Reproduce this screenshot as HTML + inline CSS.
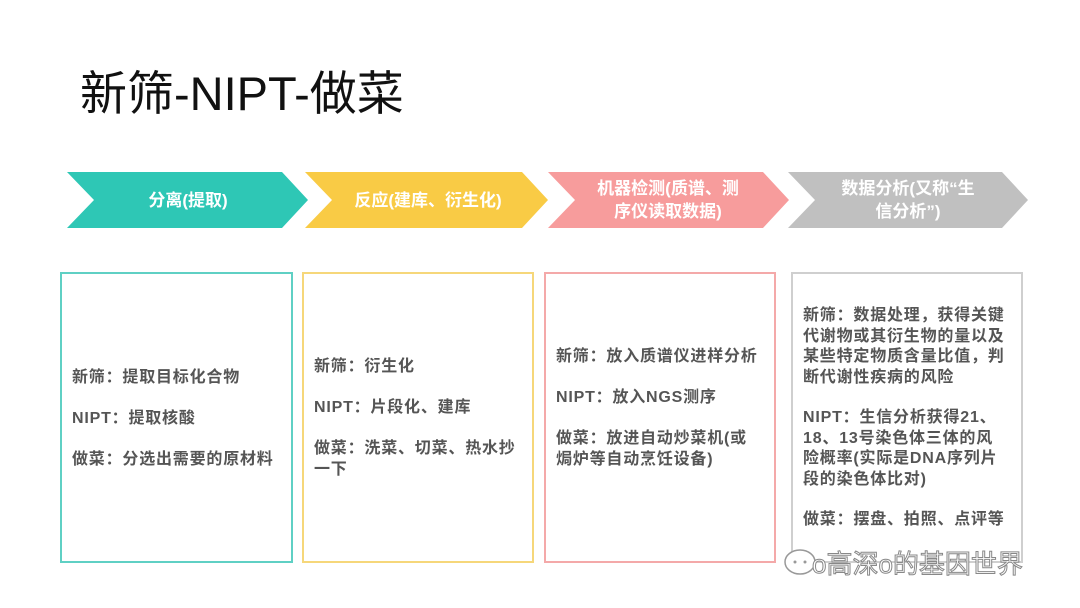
<!DOCTYPE html>
<html><head><meta charset="utf-8"><style>
body{margin:0;width:1080px;height:608px;background:#fff;position:relative;overflow:hidden;font-family:"Liberation Sans","Noto Sans CJK SC",sans-serif}
.t{position:absolute;white-space:nowrap}
.h{left:80px;top:55px;font-size:47px;color:#111}
.a{color:#fff;font-weight:bold;font-size:17px;text-align:center;line-height:23px}
.b{position:absolute;top:272px;height:291px;border:2px solid;box-sizing:border-box}
.x{position:absolute;color:#555;font-weight:bold;font-size:16px;letter-spacing:0.8px;line-height:20.5px;white-space:nowrap}
</style></head><body>
<div class="t h">新筛-NIPT-做菜</div>
<svg width="1080" height="608" style="position:absolute;left:0;top:0">
<polygon points="67,172 282,172 308,200 282,228 67,228 94,200" fill="#2ec7b5"/>
<polygon points="305,172 522,172 548,200 522,228 305,228 332,200" fill="#f9cb45"/>
<polygon points="548,172 763,172 789,200 763,228 548,228 575,200" fill="#f79c9c"/>
<polygon points="788,172 1002,172 1028,200 1002,228 788,228 815,200" fill="#c0c0c0"/>
</svg>
<div class="t a" style="left:94px;width:188px;top:189px">分离(提取)</div>
<div class="t a" style="left:330px;width:196px;top:189px">反应(建库、衍生化)</div>
<div class="t a" style="left:572px;width:192px;top:177px">机器检测(质谱、测<br>序仪读取数据)</div>
<div class="t a" style="left:812px;width:192px;top:177px">数据分析(又称“生<br>信分析”)</div>
<div class="b" style="left:60px;width:233px;border-color:#5fd0c4"></div>
<div class="b" style="left:302px;width:232px;border-color:#f6d77a"></div>
<div class="b" style="left:544px;width:232px;border-color:#f4a9a9"></div>
<div class="b" style="left:791px;width:232px;border-color:#cfcfcf"></div>
<div class="x" style="left:72px;top:368px">新筛：提取目标化合物</div>
<div class="x" style="left:72px;top:409px">NIPT：提取核酸</div>
<div class="x" style="left:72px;top:450px">做菜：分选出需要的原材料</div>
<div class="x" style="left:314px;top:357px">新筛：衍生化</div>
<div class="x" style="left:314px;top:398px">NIPT：片段化、建库</div>
<div class="x" style="left:314px;top:439px">做菜：洗菜、切菜、热水抄<br>一下</div>
<div class="x" style="left:556px;top:347px">新筛：放入质谱仪进样分析</div>
<div class="x" style="left:556px;top:388px">NIPT：放入NGS测序</div>
<div class="x" style="left:556px;top:429px">做菜：放进自动炒菜机(或<br>焗炉等自动烹饪设备)</div>
<div class="x" style="left:803px;top:306px">新筛：数据处理，获得关键<br>代谢物或其衍生物的量以及<br>某些特定物质含量比值，判<br>断代谢性疾病的风险</div>
<div class="x" style="left:803px;top:408px">NIPT：生信分析获得21、<br>18、13号染色体三体的风<br>险概率(实际是DNA序列片<br>段的染色体比对)</div>
<div class="x" style="left:803px;top:510px">做菜：摆盘、拍照、点评等</div>
<svg width="40" height="30" style="position:absolute;left:780px;top:547px">
<ellipse cx="20" cy="15" rx="15" ry="12" fill="#fff" stroke="#999" stroke-width="1.5"/>
<circle cx="15" cy="15" r="1.5" fill="#999"/><circle cx="25" cy="15" r="1.5" fill="#999"/>
</svg>
<div class="t" style="left:812px;top:544px;font-size:26px;color:#fff;-webkit-text-stroke:1px #888">o高深o的基因世界</div>
</body></html>
